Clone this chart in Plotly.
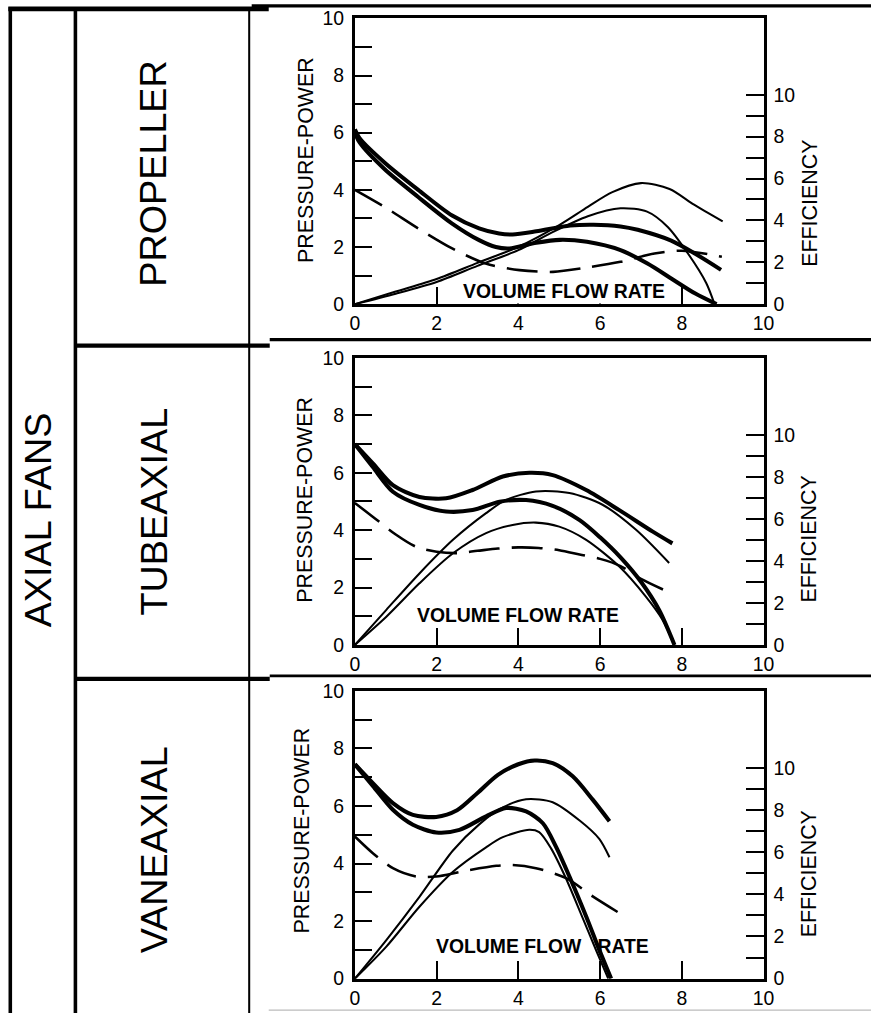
import plotly.graph_objects as go

# ---------------- data ----------------
X_TICK_VALS = [0, 2, 4, 6, 8, 10]
X_TICK_TEXT = ["0", "2", "4", "6", "8", "10"]
Y_TICK_VALS = list(range(0, 11))
Y_TICK_TEXT = ["0", "", "2", "", "4", "", "6", "", "8", "", "10"]

ROW_LABELS = ["PROPELLER", "TUBEAXIAL", "VANEAXIAL"]
GROUP_LABEL = "AXIAL FANS"
LEFT_TITLE = "PRESSURE-POWER"
RIGHT_TITLE = "EFFICIENCY"
FLOW_LABELS = ["VOLUME FLOW RATE", "VOLUME FLOW RATE", "VOLUME FLOW\u00a0\u00a0\u00a0RATE"]

# Propeller (pressure / power on left axis, efficiency on right axis)
PROP_TP_X = [0, 0.12, 0.73, 1.55, 2.38, 3.04, 3.53, 3.86, 4.44, 5.27, 5.84, 6.5, 6.92, 7.74, 8.4, 8.96]
PROP_TP_Y = [6.12, 5.8, 4.95, 4.0, 3.1, 2.65, 2.47, 2.44, 2.55, 2.75, 2.78, 2.72, 2.6, 2.22, 1.7, 1.2]
PROP_SP_X = [0, 0.12, 0.73, 1.55, 2.38, 3.04, 3.45, 3.78, 4.44, 5.02, 5.68, 6.5, 7.16, 7.74, 8.32, 8.85]
PROP_SP_Y = [6.0, 5.65, 4.72, 3.75, 2.82, 2.24, 2.0, 1.95, 2.15, 2.25, 2.18, 1.89, 1.42, 0.9, 0.38, 0.0]
PROP_PW_X = [0, 0.73, 1.55, 2.38, 3.2, 4.03, 4.85, 5.68, 6.5, 7.33, 8.0, 8.98]
PROP_PW_Y = [4.0, 3.4, 2.65, 1.95, 1.42, 1.19, 1.13, 1.28, 1.48, 1.77, 1.87, 1.66]
PROP_TE_X = [0, 1, 2, 3, 4, 5, 5.7, 6.3, 7.0, 7.7, 8.3, 9.0]
PROP_TE_Y = [0, 0.6, 1.2, 1.97, 2.74, 3.78, 4.65, 5.35, 5.78, 5.5, 4.75, 3.95]
PROP_SE_X = [0, 1, 2, 3, 4, 4.85, 5.7, 6.5, 7.15, 7.65, 8.15, 8.6, 8.8]
PROP_SE_Y = [0, 0.5, 1.06, 1.83, 2.58, 3.45, 4.2, 4.58, 4.42, 3.7, 2.42, 1.0, 0.0]

# Tubeaxial
TUBE_TP_X = [0, 0.44, 0.93, 1.58, 2.23, 2.88, 3.62, 4.27, 4.84, 5.66, 6.47, 7.29, 7.77]
TUBE_TP_Y = [7.0, 6.33, 5.57, 5.16, 5.11, 5.4, 5.87, 6.0, 5.92, 5.4, 4.7, 3.95, 3.54]
TUBE_SP_X = [0, 0.44, 0.93, 1.58, 2.23, 2.88, 3.54, 4.19, 4.84, 5.5, 6.0, 6.5, 7.0, 7.45, 7.82]
TUBE_SP_Y = [7.0, 6.2, 5.34, 4.88, 4.65, 4.7, 4.99, 5.05, 4.85, 4.35, 3.75, 3.05, 2.2, 1.2, 0.0]
TUBE_PW_X = [0, 0.5, 1, 1.5, 2, 2.5, 3, 3.5, 4, 4.5, 5, 5.5, 6, 6.5, 7.0, 7.65]
TUBE_PW_Y = [4.95, 4.4, 3.85, 3.42, 3.25, 3.2, 3.28, 3.36, 3.4, 3.38, 3.3, 3.15, 3.0, 2.75, 2.3, 1.86]
TUBE_TE_X = [0, 0.77, 1.58, 2.4, 3.21, 3.7, 4.43, 5.25, 6.06, 6.88, 7.69]
TUBE_TE_Y = [0, 1.67, 3.4, 5.0, 6.27, 6.9, 7.3, 7.23, 6.67, 5.48, 3.9]
TUBE_SE_X = [0, 0.77, 1.58, 2.4, 3.21, 3.86, 4.43, 5.0, 5.66, 6.47, 7.12, 7.53, 7.82]
TUBE_SE_Y = [0, 1.34, 2.93, 4.36, 5.32, 5.71, 5.82, 5.63, 5.0, 3.73, 2.3, 1.19, 0.0]

# Vaneaxial
VANE_TP_X = [0, 0.44, 0.93, 1.42, 1.99, 2.5, 3.0, 3.5, 4.0, 4.4, 4.84, 5.33, 5.82, 6.23]
VANE_TP_Y = [7.45, 6.79, 6.1, 5.69, 5.62, 5.85, 6.45, 7.08, 7.45, 7.58, 7.49, 7.03, 6.22, 5.47]
VANE_SP_X = [0, 0.44, 0.93, 1.42, 1.99, 2.56, 3.21, 3.7, 4.19, 4.6, 4.92, 5.25, 5.66, 5.98, 6.27]
VANE_SP_Y = [7.45, 6.7, 5.87, 5.35, 5.08, 5.17, 5.64, 5.93, 5.81, 5.4, 4.59, 3.55, 2.16, 1.0, 0.0]
VANE_PW_X = [0, 0.44, 0.93, 1.5, 1.99, 2.64, 3.46, 3.86, 4.43, 5.17, 5.82, 6.47]
VANE_PW_Y = [4.94, 4.36, 3.84, 3.55, 3.55, 3.73, 3.92, 3.95, 3.84, 3.49, 2.86, 2.28]
VANE_TE_X = [0, 0.77, 1.58, 2.4, 3.05, 3.62, 4.19, 4.84, 5.5, 5.98, 6.23]
VANE_TE_Y = [0, 1.83, 3.88, 6.08, 7.33, 8.12, 8.51, 8.37, 7.5, 6.63, 5.76]
VANE_SE_X = [0, 0.77, 1.58, 2.4, 3.21, 3.62, 4.27, 4.51, 4.8, 5.15, 5.55, 5.9, 6.2]
VANE_SE_Y = [0, 1.52, 3.41, 5.07, 6.23, 6.71, 7.06, 6.95, 6.18, 4.82, 2.99, 1.36, 0.0]

PANELS = [
    dict(tp=(PROP_TP_X, PROP_TP_Y), sp=(PROP_SP_X, PROP_SP_Y), pw=(PROP_PW_X, PROP_PW_Y),
         te=(PROP_TE_X, PROP_TE_Y), se=(PROP_SE_X, PROP_SE_Y)),
    dict(tp=(TUBE_TP_X, TUBE_TP_Y), sp=(TUBE_SP_X, TUBE_SP_Y), pw=(TUBE_PW_X, TUBE_PW_Y),
         te=(TUBE_TE_X, TUBE_TE_Y), se=(TUBE_SE_X, TUBE_SE_Y)),
    dict(tp=(VANE_TP_X, VANE_TP_Y), sp=(VANE_SP_X, VANE_SP_Y), pw=(VANE_PW_X, VANE_PW_Y),
         te=(VANE_TE_X, VANE_TE_Y), se=(VANE_SE_X, VANE_SE_Y)),
]

# ---------------- layout geometry ----------------
W, H = 871, 1013
FONT = "Liberation Sans, Arial, sans-serif"
# the photographed page comes out slightly shrunk about its centre; compensate
SX, SY = 0.98, 0.979
CX, CY = W / 2, H / 2
K = 1 / SX


def px(x):
    return (CX + (x - CX) / SX) / W


def py(y):
    return 1 - (CY + (y - CY) / SY) / H


X_DOM = [px(358), px(766)]
PANEL_PIX = [(18, 304), (358, 645), (691, 979)]
EFF_RANGE = [0, 13.65]

fig = go.Figure()

for i, p in enumerate(PANELS):
    n = i + 1
    xname = "x" if n == 1 else f"x{n}"
    yl = "y" if n == 1 else f"y{n}"
    yr = f"y{n + 3}"
    thick = dict(color="black", width=4 * K, shape="spline", smoothing=0.8)
    thin = dict(color="black", width=2 * K, shape="spline", smoothing=0.8)
    dash = dict(color="black", width=2.5 * K, shape="spline", smoothing=0.8, dash="31px,12px")
    fig.add_trace(go.Scatter(x=p["tp"][0], y=p["tp"][1], mode="lines", line=thick, xaxis=xname, yaxis=yl))
    fig.add_trace(go.Scatter(x=p["sp"][0], y=p["sp"][1], mode="lines", line=thick, xaxis=xname, yaxis=yl))
    fig.add_trace(go.Scatter(x=p["pw"][0], y=p["pw"][1], mode="lines", line=dash, xaxis=xname, yaxis=yl))
    fig.add_trace(go.Scatter(x=p["te"][0], y=p["te"][1], mode="lines", line=thin, xaxis=xname, yaxis=yr))
    fig.add_trace(go.Scatter(x=p["se"][0], y=p["se"][1], mode="lines", line=thin, xaxis=xname, yaxis=yr))

    top, bot = PANEL_PIX[i]
    tickfont = dict(family=FONT, size=19.4, color="black")
    xkey = "xaxis" if n == 1 else f"xaxis{n}"
    ylkey = "yaxis" if n == 1 else f"yaxis{n}"
    yrkey = f"yaxis{n + 3}"
    common = dict(ticks="inside", ticklen=17.3, tickwidth=2, tickcolor="black",
                  showgrid=False, zeroline=False, tickfont=tickfont, fixedrange=True)
    fig.layout[xkey] = dict(
        domain=X_DOM, anchor=yl, range=[0, 10], tickvals=X_TICK_VALS, ticktext=X_TICK_TEXT,
        showline=True, linewidth=3, linecolor="black", mirror=True, **common,
    )
    fig.layout[ylkey] = dict(
        domain=[py(bot), py(top)], anchor=xname, range=[0, 10],
        tickvals=Y_TICK_VALS, ticktext=Y_TICK_TEXT,
        showline=True, linewidth=3, linecolor="black", mirror=True,
        ticklabelstandoff=4, **common,
    )
    fig.layout[yrkey] = dict(
        overlaying=yl, anchor=xname, side="right", range=EFF_RANGE,
        tickvals=Y_TICK_VALS, ticktext=Y_TICK_TEXT,
        showline=False, ticklabelstandoff=9, **common,
    )

annotations = []


def label(text, x, y, size, angle=0, bg=None, weight="normal"):
    d = dict(text=text, x=px(x), y=py(y), xref="paper", yref="paper", showarrow=False,
             xanchor="center", yanchor="middle", textangle=angle,
             font=dict(family=FONT, size=size * K, color="black", weight=weight))
    if bg:
        d["bgcolor"] = bg
    annotations.append(d)


label(GROUP_LABEL, 42, 520, 37, -90)
for txt, yc in zip(ROW_LABELS, [173, 512, 850]):
    label(txt, 157, yc, 37, -90)
for (xl, yl_), (xr, yr_) in zip([(309, 160), (308, 500), (305, 831)], [(813, 203), (811, 539), (811, 874)]):
    label(LEFT_TITLE, xl, yl_, 21, -90)
    label(RIGHT_TITLE, xr, yr_, 21, -90)
for txt, (xc, yc), bg in zip(FLOW_LABELS, [(567, 291), (521, 615), (545, 946)], ["white", None, None]):
    label(txt, xc, yc, 19, 0, bg, "bold")

shapes = []


def seg(x0, x1, y0, y1, w, color="black"):
    shapes.append(dict(type="line", xref="paper", yref="paper", x0=x0, x1=x1,
                       y0=y0, y1=y1, line=dict(color=color, width=w)))


def hline(x0, x1, y, w, color="black"):
    seg(px(x0), px(x1), py(y), py(y), w * K, color)


def vline(x, y0, y1, w, color="black"):
    seg(px(x), px(x), py(y0), py(y1), w * K, color)


hline(255, 880, 5.5, 3)
hline(12, 272, 8.5, 4.5)
vline(14, 7, 1020, 3.5)
vline(79, 7, 1020, 3.5)
vline(252.5, 7, 1020, 2)
hline(79, 273, 345.5, 4)
hline(273, 880, 339.5, 3)
hline(79, 273, 679, 4)
hline(273, 880, 676, 2.5)
hline(272, 880, 1010.5, 1, "#bbbbbb")

fig.update_layout(
    width=W, height=H, margin=dict(l=0, r=0, t=0, b=0),
    paper_bgcolor="white", plot_bgcolor="white", showlegend=False,
    annotations=annotations, shapes=shapes,
)

fig.write_html(
    "out.html",
    config={"displayModeBar": False},
    post_script="document.body.style.margin='0';document.body.style.overflow='hidden';",
)
